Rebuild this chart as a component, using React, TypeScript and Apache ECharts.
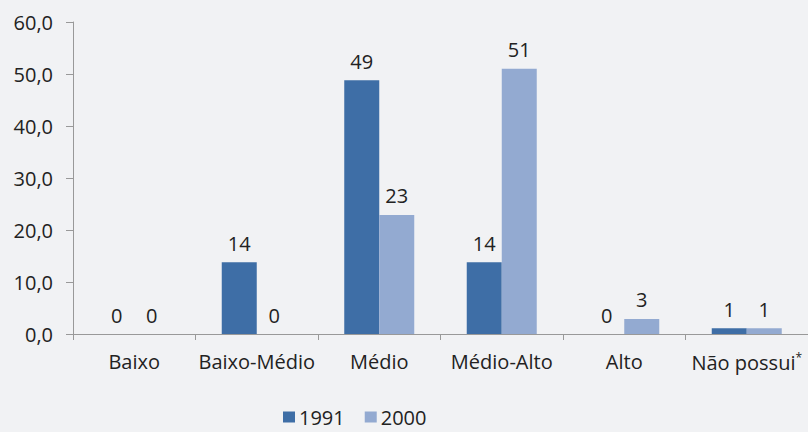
import React, { useEffect, useRef } from "react";
import * as echarts from "echarts";

const categories = ["Baixo", "Baixo-Médio", "Médio", "Médio-Alto", "Alto", "Não possui"];
const series1991 = [0, 13.8, 48.8, 13.8, 0, 1.1];
const series2000 = [0, 0, 22.9, 51.0, 2.9, 1.1];
const seriesNames = ["1991", "2000"];
const yTicks = { min: 0, max: 60, interval: 10 };

export default function App() {
  const ref = useRef<HTMLDivElement>(null);
  useEffect(() => {
    if (!ref.current) return;
    const chart = echarts.init(ref.current, null, { renderer: "svg" });
    const font = "'Open Sans', 'Noto Sans', sans-serif";
    const labelStyle = {
      show: true,
      position: "top" as const,
      distance: 9,
      fontSize: 20,
      color: "#222",
      fontFamily: font,
      formatter: (p: any) => String(Math.round(p.value)),
    };
    chart.setOption({
      animation: false,
      backgroundColor: "#f1f2f4",
      textStyle: { fontFamily: font },
      legend: {
        data: seriesNames,
        left: 278,
        top: 402,
        itemWidth: 12,
        itemHeight: 11,
        itemGap: 20,
        icon: "rect",
        textStyle: { fontSize: 20, color: "#222", fontFamily: font, padding: [0, 0, 0, -1] },
      },
      grid: { left: 73, top: 22, width: 740, height: 312 },
      xAxis: {
        type: "category",
        data: categories,
        axisLine: { lineStyle: { color: "#999", width: 1 } },
        axisTick: { show: true, length: 6, lineStyle: { color: "#999" } },
        axisLabel: {
          interval: 0,
          margin: 17,
          fontSize: 20,
          color: "#222",
          fontFamily: font,
          formatter: (v: string) => (v === "Não possui" ? "{a|" + v + "}{b|*}" : v),
          rich: {
            a: { fontSize: 20, color: "#222", fontFamily: font },
            b: { fontSize: 12, color: "#222", fontFamily: font, padding: [0, 0, 11, 0] },
          },
        },
      },
      yAxis: {
        type: "value",
        min: yTicks.min,
        max: yTicks.max,
        interval: yTicks.interval,
        splitLine: { show: false },
        axisLine: { show: true, lineStyle: { color: "#999", width: 1 } },
        axisTick: { show: true, length: 7, lineStyle: { color: "#999" } },
        axisLabel: {
          margin: 20,
          fontSize: 20,
          color: "#222",
          fontFamily: font,
          formatter: (v: number) => v.toFixed(1).replace(".", ","),
        },
      },
      series: [
        {
          name: seriesNames[0],
          type: "bar",
          data: series1991,
          barWidth: 35,
          barGap: "0%",
          itemStyle: { color: "#3e6ea6" },
          label: labelStyle,
        },
        {
          name: seriesNames[1],
          type: "bar",
          data: series2000,
          barWidth: 35,
          barGap: "0%",
          itemStyle: { color: "#93aad1" },
          label: labelStyle,
        },
      ],
    });
    return () => chart.dispose();
  }, []);
  return (
    <div
      ref={ref}
      style={{ position: "fixed", left: 0, top: 0, width: 808, height: 432 }}
    />
  );
}
